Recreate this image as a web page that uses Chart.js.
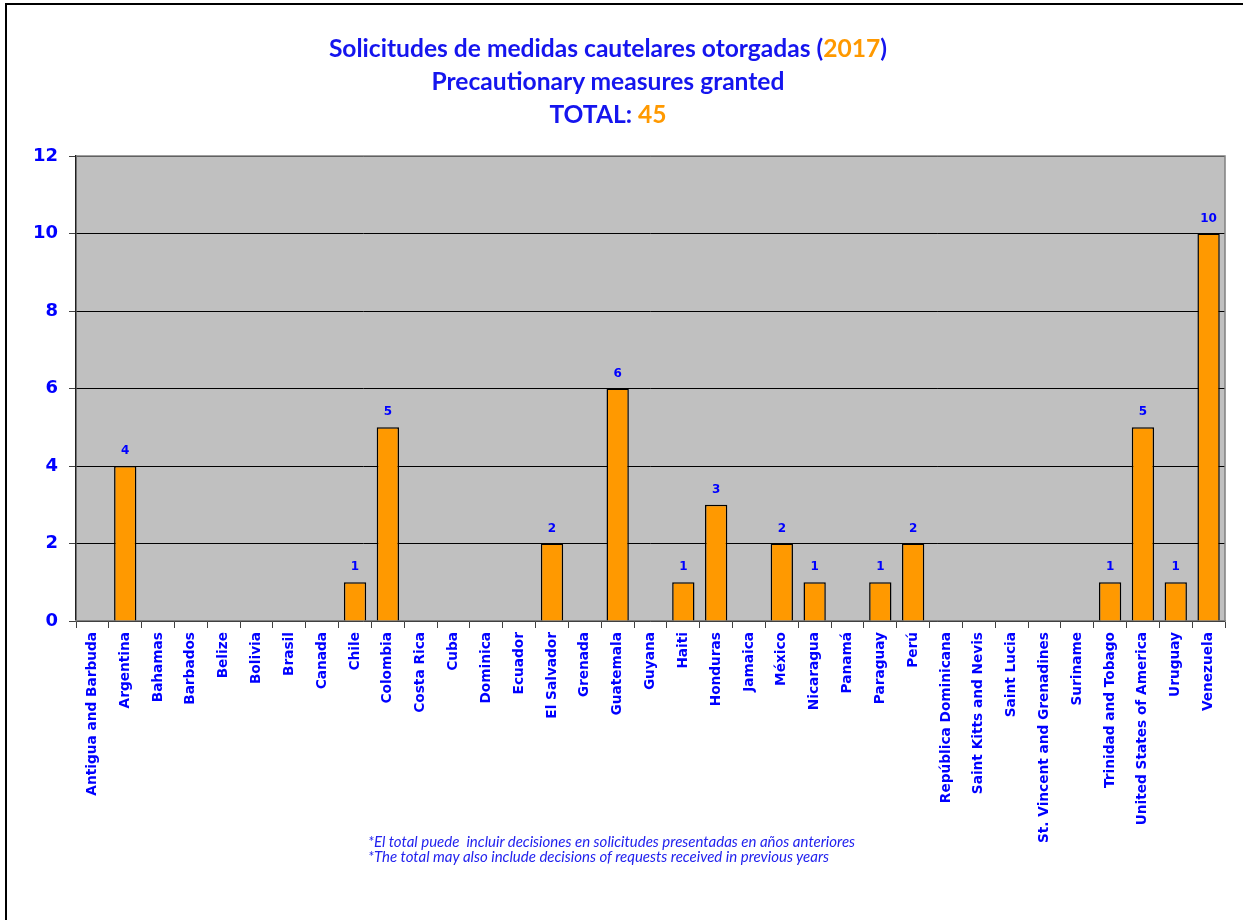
<!DOCTYPE html>
<html>
<head>
<meta charset="utf-8">
<script src="https://cdn.jsdelivr.net/npm/chart.js@4.4.0/dist/chart.umd.min.js"></script>
<style>
  html, body { margin:0; padding:0; background:#fff; }
  #wrap { position:relative; width:1243px; height:920px; overflow:hidden; }
  #frame { position:absolute; left:5px; top:3px; width:1300px; height:1000px; border-top:2px solid #000; border-left:2px solid #000; }
  canvas { position:absolute; left:0; top:0; }
  .title { position:absolute; left:0; width:1216px; text-align:center; font-family:Lato, "Open Sans", sans-serif; font-weight:bold; font-size:24.6px; color:#1515EE; white-space:nowrap; }
  .org { color:#FF9900; }
  #note { position:absolute; left:368px; top:834px; font-family:Lato, "Open Sans", sans-serif; font-style:italic; font-size:15px; line-height:15px; color:#2222EE; white-space:pre; }
</style>
</head>
<body>
<div id="wrap">
  <div id="frame"></div>
  <canvas id="c" width="1243" height="920"></canvas>
  <div class="title" style="top:33px">Solicitudes de medidas cautelares otorgadas (<span class="org">2017</span>)</div>
  <div class="title" style="top:66px">Precautionary measures granted</div>
  <div class="title" style="top:99px">TOTAL: <span class="org">45</span></div>
  <div id="note">*El total puede  incluir decisiones en solicitudes presentadas en años anteriores
*The total may also include decisions of requests received in previous years</div>
</div>
<script>
const countries = ["Antigua and Barbuda","Argentina","Bahamas","Barbados","Belize","Bolivia","Brasil","Canada","Chile","Colombia","Costa Rica","Cuba","Dominica","Ecuador","El Salvador","Grenada","Guatemala","Guyana","Haiti","Honduras","Jamaica","México","Nicaragua","Panamá","Paraguay","Perú","República Dominicana","Saint Kitts and Nevis","Saint Lucia","St. Vincent and Grenadines","Suriname","Trinidad and Tobago","United States of America","Uruguay","Venezuela"];
const granted = [0,4,0,0,0,0,0,0,1,5,0,0,0,0,2,0,6,0,1,3,0,2,1,0,1,2,0,0,0,0,0,1,5,1,10];
const yTicks = [0,2,4,6,8,10,12];

const BLUE = '#0000FF';

const bgPlugin = {
  id: 'bg',
  beforeDraw(chart) {
    const a = chart.chartArea, ctx = chart.ctx;
    ctx.save();
    ctx.fillStyle = '#C0C0C0';
    ctx.fillRect(a.left, a.top, a.right - a.left, a.bottom - a.top);
    ctx.restore();
  },
  afterDatasetsDraw(chart) {
    const a = chart.chartArea, ctx = chart.ctx;
    ctx.save();
    ctx.strokeStyle = '#808080';
    ctx.lineWidth = 1.5;
    ctx.beginPath();
    ctx.moveTo(a.left, a.top); ctx.lineTo(a.right, a.top); ctx.lineTo(a.right, a.bottom);
    ctx.stroke();
    const meta = chart.getDatasetMeta(0);
    ctx.fillStyle = BLUE;
    ctx.font = 'bold 12px "DejaVu Sans"';
    ctx.textAlign = 'center';
    ctx.textBaseline = 'alphabetic';
    meta.data.forEach((bar, i) => {
      const v = granted[i];
      if (v > 0) ctx.fillText(String(v), bar.x, bar.y - 12);
    });
    ctx.restore();
  }
};

new Chart(document.getElementById('c'), {
  type: 'bar',
  data: {
    labels: countries,
    datasets: [{
      data: granted,
      backgroundColor: '#FF9900',
      borderColor: '#000000',
      borderWidth: 1.5,
      barPercentage: 0.68,
      categoryPercentage: 1.0
    }]
  },
  options: {
    responsive: false,
    animation: false,
    devicePixelRatio: 1,
    layout: { padding: { left: 0, top: 156, right: 18, bottom: 10 } },
    plugins: { legend: { display: false }, tooltip: { enabled: false }, title: { display: false } },
    scales: {
      y: {
        min: 0, max: 12,
        afterFit(scale) { scale.width = 76; },
        afterBuildTicks(scale) { scale.ticks = yTicks.map(v => ({ value: v })); },
        ticks: { color: BLUE, font: { family: '"DejaVu Sans"', weight: 'bold', size: 18 }, padding: 11 },
        grid: { color: '#000000', lineWidth: 1, tickLength: 7, drawTicks: true, tickColor: '#404040' },
        border: { color: '#202020', width: 1.5 }
      },
      x: {
        afterFit(scale) { scale.height = 289; },
        ticks: { color: BLUE, font: { family: '"DejaVu Sans"', weight: 'bold', size: 13.7 }, maxRotation: 90, minRotation: 90, padding: 4, autoSkip: false },
        grid: { offset: true, drawOnChartArea: false, drawTicks: true, tickLength: 7, color: '#404040', lineWidth: 1 },
        border: { color: '#808080', width: 1.5 }
      }
    }
  },
  plugins: [bgPlugin]
});
</script>
</body>
</html>
